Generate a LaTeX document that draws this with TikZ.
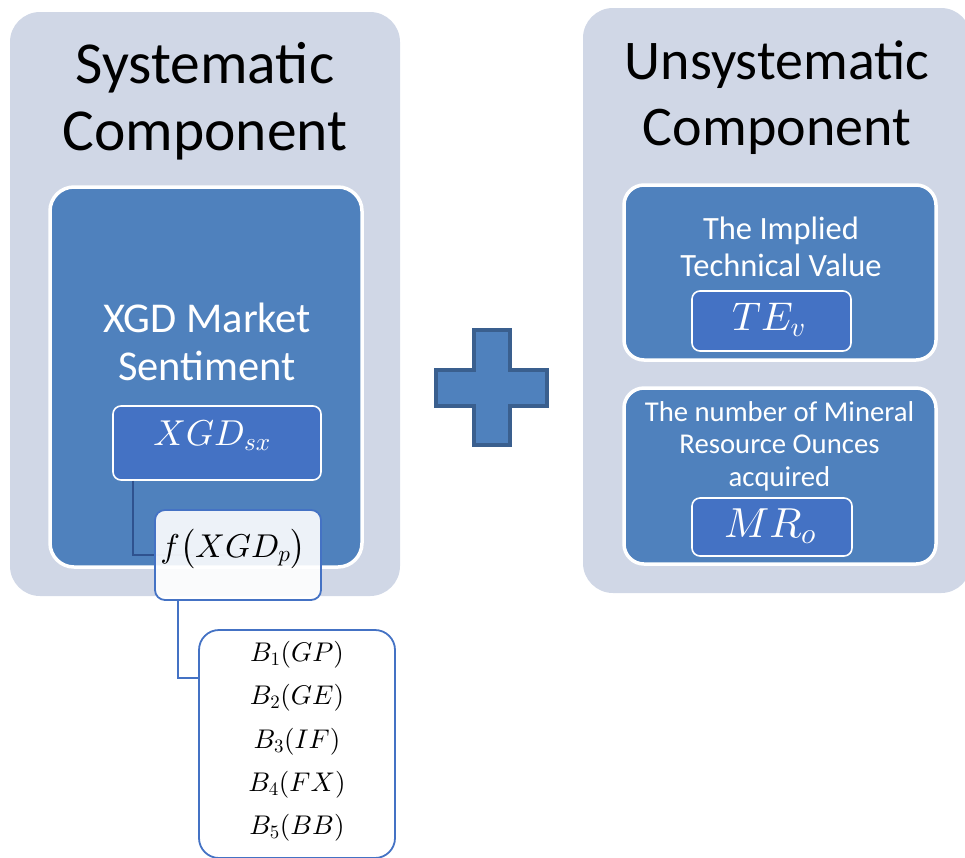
\documentclass[tikz,border=0pt]{standalone}
\usepackage[no-math]{fontspec}
\setmainfont{Carlito}
\usetikzlibrary{calc}

% scalable Computer Modern shapes for the large formulas
\DeclareFontShape{OML}{cmm}{m}{it}{<->cmmi10}{}
\DeclareFontShape{OT1}{cmr}{m}{n}{<->cmr10}{}
\DeclareFontShape{OMS}{cmsy}{m}{n}{<->cmsy10}{}
\DeclareFontShape{OMX}{cmex}{m}{n}{<->cmex10}{}

\definecolor{panel}{HTML}{D0D7E6}
\definecolor{accent}{HTML}{4F81BD}
\definecolor{deep}{HTML}{4472C4}
\definecolor{rim}{HTML}{3A5F8E}
\definecolor{linkdark}{HTML}{2F528F}

\begin{document}
\begin{tikzpicture}[x=1pt,y=-1pt,
  panelbox/.style={fill=panel, draw=none, rounded corners=30pt, inner sep=0pt},
  groupbox/.style={fill=accent, draw=white, line width=3.5pt, rounded corners=24pt, inner sep=0pt},
  varbox/.style={fill=deep, draw=white, line width=1.6pt, rounded corners=8pt, inner sep=0pt},
  funcbox/.style={fill=white, fill opacity=0.9, text opacity=1, draw=deep, line width=1.8pt, rounded corners=10pt, inner sep=0pt},
  listbox/.style={fill=white, draw=deep, line width=1.8pt, rounded corners=20pt, inner sep=0pt},
  titletext/.style={align=center, inner sep=0pt, anchor=base, text=black},
  bodytext/.style={align=center, inner sep=0pt, anchor=base, text=white},
  mathtext/.style={inner sep=0pt, anchor=base},
  link/.style={line width=1.8pt}
]
\useasboundingbox (0,0) rectangle (965,857);

% outer panels
\node[panelbox, minimum width=390pt, minimum height=584pt] (sysPanel) at (205,304) {};
\node[panelbox, minimum width=388pt, minimum height=585pt] (unsPanel) at (777,300.5) {};

% panel titles (anchored on the baseline of the last line)
\node[titletext, font=\fontsize{59.5}{67}\selectfont] (sysTitle) at (205,150) {Systematic\\Component};
\node[titletext, font=\fontsize{56}{66}\selectfont] (unsTitle) at (777,145) {Unsystematic\\Component};

% systematic group
\node[groupbox, minimum width=312pt, minimum height=380pt] (sentBox) at (206,377) {};
\node[bodytext, font=\fontsize{42.5}{48}\selectfont] (sentText) at (207,380) {XGD Market\\Sentiment};
\node[varbox, minimum width=208pt, minimum height=74pt] (xgdBox) at (217,443) {};
\node[mathtext, text=white, font=\fontsize{36}{40}\selectfont] (xgdText) at (212,445) {$XGD_{sx}$};

% function box and its link
\draw[link, linkdark] ($(xgdBox.south west)+(21,0)$) |- (238,555);
\node[funcbox, minimum width=166pt, minimum height=90pt] (fBox) at (238,555) {};
\node[mathtext, text=black, font=\fontsize{33}{38}\selectfont] (fText) at (233,557)
  {$f{\left(\vrule height 0.85em depth 0.3em width 0pt XGD_p\right)}$};

% list of betas
\node[listbox, minimum width=196pt, minimum height=228pt] (betaBox) at (297,744) {};
\draw[link, deep] ($(fBox.south west)+(24,0)$) |- ($(betaBox.north west)+(0,49)$);
\begin{scope}[every node/.style={mathtext, text=black, font=\fontsize{27}{30}\selectfont}]
  \node (b1) at (297,661) {$B_1(GP)$};
  \node (b2) at (297,704.5) {$B_2(GE)$};
  \node (b3) at (297,748) {$B_3(IF)$};
  \node (b4) at (297,791) {$B_4(FX)$};
  \node (b5) at (297,834) {$B_5(BB)$};
\end{scope}

% plus sign
\draw[fill=accent, draw=rim, line width=4pt, line join=miter]
  (474,330) -- (510,330) -- (510,370) -- (547,370) -- (547,406) -- (510,406)
  -- (510,445) -- (474,445) -- (474,406) -- (436,406) -- (436,370) -- (474,370) -- cycle;

% unsystematic groups
\node[groupbox, minimum width=312pt, minimum height=175pt, rounded corners=20pt] (techBox) at (780,272.5) {};
\node[bodytext, font=\fontsize{32.5}{37}\selectfont] (techText) at (781,276) {The Implied\\Technical Value};
\node[varbox, minimum width=159pt, minimum height=60pt] (teBox) at (771.5,321) {};
\node[mathtext, text=white, font=\fontsize{40}{44}\selectfont] (teText) at (769,330) {$TE_v$};

\node[groupbox, minimum width=312pt, minimum height=176pt, rounded corners=20pt] (oreBox) at (780,476) {};
\node[bodytext, font=\fontsize{28.7}{32.5}\selectfont] (oreText) at (779.5,486) {The number of Mineral\\Resource Ounces\\acquired};
\node[varbox, minimum width=160pt, minimum height=58pt] (mrBox) at (772,527) {};
\node[mathtext, text=white, font=\fontsize{42}{46}\selectfont] (mrText) at (770,537) {$MR_o$};
\end{tikzpicture}
\end{document}
